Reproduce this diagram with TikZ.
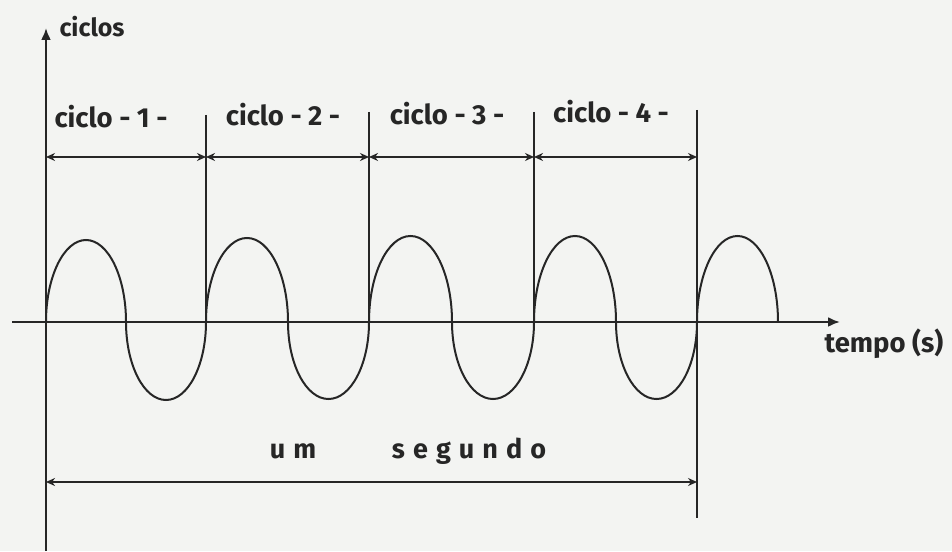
\documentclass[tikz,border=0pt]{standalone}
\usepackage{fontspec}
\setmainfont{Fira Sans}
\usetikzlibrary{arrows.meta}
\definecolor{ink}{HTML}{262626}
\definecolor{paper}{HTML}{F3F4F2}
\begin{document}
\begin{tikzpicture}[x=1pt,y=1pt,
  axisline/.style={draw=ink,line width=2.3pt,-{Latex[length=12pt,width=10pt]}},
  wave/.style={draw=ink,line width=2pt},
  divider/.style={draw=ink,line width=2.1pt},
  dimarrow/.style={draw=ink,line width=1.5pt,{Stealth[length=9pt,width=8pt]}-{Stealth[length=9pt,width=8pt]}},
  lab/.style={text=ink,font=\fontsize{27.5}{27.5}\selectfont\bfseries,inner sep=0pt,anchor=base},
  smalllab/.style={text=ink,font=\fontsize{25}{25}\selectfont\bfseries,inner sep=0pt,anchor=base},
  spaced/.style={text=ink,font=\fontsize{27}{27}\selectfont\bfseries\addfontfeature{LetterSpace=30},inner sep=0pt,anchor=base}
]
\fill[paper] (0,0) rectangle (952,551);
\useasboundingbox (0,0) rectangle (952,551);
% coordinates
\coordinate (ybot) at (46,0);
\coordinate (ytop) at (46,523);
\coordinate (xleft) at (12,229);
\coordinate (xright) at (840,229);
\coordinate (d0) at (46,394);
\coordinate (d1) at (206,394);
\coordinate (d2) at (369,394);
\coordinate (d3) at (534,394);
\coordinate (d4) at (697,394);
\coordinate (t1) at (206,436);
\coordinate (b1) at (206,222);
\coordinate (t2) at (369,439);
\coordinate (b2) at (369,222);
\coordinate (t3) at (534,439);
\coordinate (b3) at (534,222);
\coordinate (t4) at (697,441);
\coordinate (b4) at (697,33);
\coordinate (s0) at (46,69);
\coordinate (s1) at (697,69);
% axes
\draw[axisline] (ybot) -- (ytop);
\draw[axisline] (xleft) -- (xright);
% dividers
\draw[divider] (t1) -- (b1);
\draw[divider] (t2) -- (b2);
\draw[divider] (t3) -- (b3);
\draw[divider] (t4) -- (b4);
% wave
\draw[wave] (46,229)
  arc[start angle=180,end angle=0,x radius=40,y radius=82]
  arc[start angle=180,end angle=360,x radius=40,y radius=78]
  arc[start angle=180,end angle=0,x radius=41,y radius=84]
  arc[start angle=180,end angle=360,x radius=40.5,y radius=77]
  arc[start angle=180,end angle=0,x radius=41.5,y radius=86]
  arc[start angle=180,end angle=360,x radius=41,y radius=77]
  arc[start angle=180,end angle=0,x radius=41,y radius=86]
  arc[start angle=180,end angle=360,x radius=40.5,y radius=77]
  arc[start angle=180,end angle=0,x radius=40.5,y radius=86];
% dimension arrows
\draw[dimarrow] (d0) -- (d1);
\draw[dimarrow] (d1) -- (d2);
\draw[dimarrow] (d2) -- (d3);
\draw[dimarrow] (d3) -- (d4);
\draw[dimarrow] (s0) -- (s1);
% labels
\node[smalllab] (ciclos) at (92,514) {ciclos};
\node[lab] (c1) at (111,423) {ciclo - 1 -};
\node[lab] (c2) at (283,425) {ciclo - 2 -};
\node[lab] (c3) at (447,426) {ciclo - 3 -};
\node[lab] (c4) at (611,428) {ciclo - 4 -};
\node[lab] (tempo) at (884,198) {tempo (s)};
\node[spaced] (um) at (293,92) {um};
\node[spaced] (seg) at (469,92) {segundo};
\end{tikzpicture}
\end{document}
